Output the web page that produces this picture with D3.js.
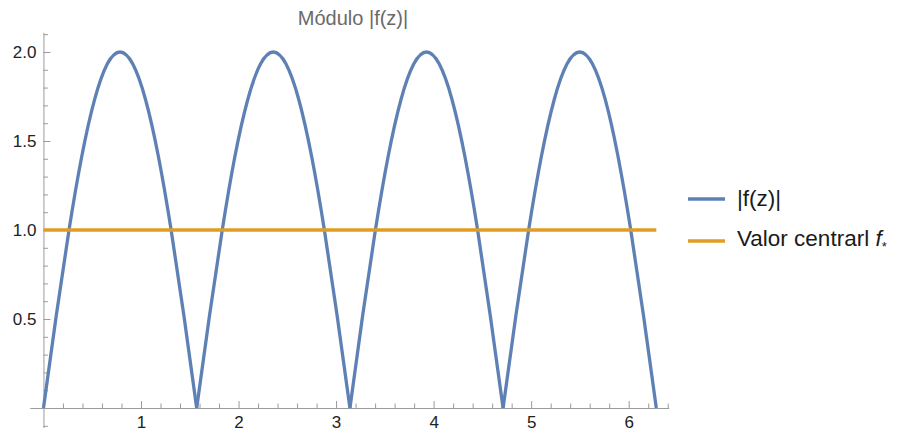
<!DOCTYPE html>
<html lang="es">
  <head>
    <meta charset="utf-8" />
    <title>Módulo |f(z)|</title>
    <script src="https://d3js.org/d3.v7.min.js"></script>
    <style>
      body { margin: 0; background: #fff; }
      .axis path, .axis line { stroke: #9a9a9a; stroke-width: 1px; }
      .axis text { font-family: "Liberation Sans", Arial, sans-serif; font-size: 17px; fill: #222; }
      .title { font-family: "Liberation Sans", Arial, sans-serif; font-size: 20px; fill: #6a6a6a; }
      .legend text { font-family: "Liberation Sans", Arial, sans-serif; font-size: 22.5px; fill: #1a1a1a; }
    </style>
  </head>
  <body>
    <script>
      // sample points of |f(z)|
      const zs = [0, 0.131, 0.262, 0.393, 0.524, 0.654, 0.785, 0.916, 1.047, 1.178, 1.309, 1.440,
        1.571, 1.702, 1.833, 1.963, 2.094, 2.225, 2.356, 2.487, 2.618, 2.749, 2.880, 3.011,
        3.142, 3.272, 3.403, 3.534, 3.665, 3.796, 3.927, 4.058, 4.189, 4.320, 4.451, 4.581,
        4.712, 4.843, 4.974, 5.105, 5.236, 5.367, 5.498, 5.629, 5.760, 5.890, 6.021, 6.152, 6.283];
      const modulo = [0, 0.518, 1.0, 1.414, 1.732, 1.932, 2.0, 1.932, 1.732, 1.414, 1.0, 0.518,
        0, 0.518, 1.0, 1.414, 1.732, 1.932, 2.0, 1.932, 1.732, 1.414, 1.0, 0.518,
        0, 0.518, 1.0, 1.414, 1.732, 1.932, 2.0, 1.932, 1.732, 1.414, 1.0, 0.518,
        0, 0.518, 1.0, 1.414, 1.732, 1.932, 2.0, 1.932, 1.732, 1.414, 1.0, 0.518, 0];
      const centralZ = [0, 6.283];
      const centralVal = [1.0, 1.0];

      const xMajor = [1, 2, 3, 4, 5, 6];
      const xMinor = [0.2, 0.4, 0.6, 0.8, 1.2, 1.4, 1.6, 1.8, 2.2, 2.4, 2.6, 2.8, 3.2, 3.4, 3.6, 3.8,
        4.2, 4.4, 4.6, 4.8, 5.2, 5.4, 5.6, 5.8, 6.2, 6.4];
      const yMajor = [0.5, 1.0, 1.5, 2.0];
      const yMinor = [-0.1, 0.1, 0.2, 0.3, 0.4, 0.6, 0.7, 0.8, 0.9, 1.1, 1.2, 1.3, 1.4, 1.6, 1.7, 1.8, 1.9, 2.1];

      const w = 899, h = 432;
      const blue = "#5e81b5", orange = "#e19c24";

      const svg = d3.select("body").append("svg").attr("width", w).attr("height", h);

      const x = d3.scaleLinear().domain([-0.14, 6.41]).range([29.8, 668.7]);
      const y = d3.scaleLinear().domain([-0.11, 2.11]).range([427.6, 32.4]);

      // axes
      const gx = svg.append("g").attr("class", "axis").attr("transform", `translate(0,${y(0)})`);
      gx.call(d3.axisBottom(x).tickValues(xMinor).tickSize(-4.5).tickSizeOuter(0).tickFormat(""));
      gx.append("g").call(d3.axisBottom(x).tickValues(xMajor).tickSize(-7).tickPadding(8).tickFormat(d3.format("d")))
        .call(g => g.select(".domain").remove());

      const gy = svg.append("g").attr("class", "axis").attr("transform", `translate(${x(0)},0)`);
      gy.call(d3.axisLeft(y).tickValues(yMinor).tickSize(-4.5).tickSizeOuter(0).tickFormat(""));
      gy.append("g").call(d3.axisLeft(y).tickValues(yMajor).tickSize(-7).tickPadding(7).tickFormat(d3.format(".1f")))
        .call(g => g.select(".domain").remove());
      svg.selectAll(".axis text").attr("fill", "#222");

      // curve, split at the zeros so the cusps stay sharp
      const pts = zs.map((z, i) => ({ z: z, v: modulo[i] }));
      const humps = [];
      let cur = [pts[0]];
      for (let i = 1; i < pts.length; i++) {
        cur.push(pts[i]);
        if (pts[i].v === 0) { humps.push(cur); cur = [pts[i]]; }
      }
      const line = d3.line().x(d => x(d.z)).y(d => y(d.v)).curve(d3.curveNatural);
      svg.append("g").selectAll("path").data(humps).join("path")
        .attr("d", line).attr("fill", "none").attr("stroke", blue).attr("stroke-width", 3.3)
        .attr("stroke-linejoin", "round");

      const central = centralZ.map((z, i) => ({ z: z, v: centralVal[i] }));
      svg.append("path").attr("d", d3.line().x(d => x(d.z)).y(d => y(d.v))(central))
        .attr("fill", "none").attr("stroke", orange).attr("stroke-width", 3.3);

      svg.append("text").attr("class", "title").attr("x", 353).attr("y", 25)
        .attr("text-anchor", "middle").text("Módulo |f(z)|");

      // legend
      const leg = svg.append("g").attr("class", "legend");
      const items = [{ c: blue, y: 199 }, { c: orange, y: 241 }];
      leg.selectAll("line").data(items).join("line")
        .attr("x1", 688).attr("x2", 725).attr("y1", d => d.y).attr("y2", d => d.y)
        .attr("stroke", d => d.c).attr("stroke-width", 3.3);
      leg.append("text").attr("x", 737).attr("y", 206).text("|f(z)|");
      const t2 = leg.append("text").attr("x", 737).attr("y", 246);
      t2.append("tspan").text("Valor centrarl ");
      t2.append("tspan").attr("font-style", "italic").text("f");
      t2.append("tspan").attr("font-size", "13px").attr("dy", 5).text("*");
    </script>
  </body>
</html>
